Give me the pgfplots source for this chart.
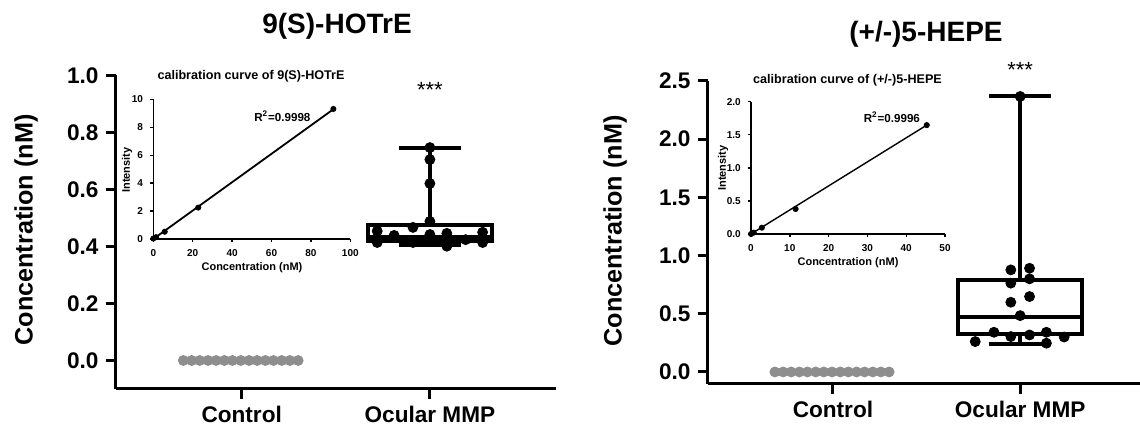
\documentclass[border=0pt]{standalone}
\usepackage{fontspec}
\setmainfont{Liberation Sans}
\usepackage{pgfplots}
\pgfplotsset{compat=1.18}
\usepgfplotslibrary{statistics}
\definecolor{ctrlgray}{HTML}{8E8E8E}

\pgfplotsset{
  mainax/.style={scale only axis, axis lines=left, axis line style={-, line width=1.5pt},
    enlargelimits=false, clip=false, tick align=outside, major tick length=5pt,
    tick style={line width=1.5pt, black},
    xtick={0,1}, xticklabels={Control, Ocular MMP},
    tick label style={font=\bfseries\fontsize{11.3}{13}\selectfont},
    /pgf/number format/assume math mode=true,
    yticklabel style={/pgf/number format/fixed, /pgf/number format/fixed zerofill, /pgf/number format/precision=1},
    xmin=-0.67, ymin=-0.1},
  inset/.style={scale only axis, axis lines=left, axis line style={-, line width=0.7pt},
    enlargelimits=false, clip=false, tick align=outside, major tick length=1.6pt,
    tick style={line width=0.7pt, black},
    tick label style={font=\bfseries\fontsize{5}{5.5}\selectfont},
    /pgf/number format/assume math mode=true, xmin=0, ymin=0},
  ctrl/.style={only marks, mark=*, mark size=2.5pt, color=ctrlgray},
  pts/.style={only marks, mark=*, mark size=2.5pt, black},
  bx/.style={draw=black, line width=2pt, solid, mark=none, boxplot/draw direction=y},
  ipts/.style={only marks, mark=*, mark size=1.3pt, black},
}

\begin{document}
\begin{tikzpicture}
\useasboundingbox (0,0) rectangle (570pt,215.5pt);

% ---------- left panel: 9(S)-HOTrE ----------
\begin{axis}[mainax, at={(57.8pt,21pt)}, anchor=south west,
  width=220.2pt, height=156.75pt, xmax=1.67, ymax=1.0,
  ytick={0,0.2,0.4,0.6,0.8,1.0}]
  \addplot[ctrl] coordinates {(-0.31,0) (-0.266,0) (-0.223,0) (-0.179,0) (-0.136,0)
    (-0.092,0) (-0.049,0) (-0.005,0) (0.039,0) (0.082,0) (0.126,0) (0.169,0)
    (0.213,0) (0.256,0) (0.30,0)};
  \addplot[bx, boxplot prepared={draw position=1, lower whisker=0.404,
    lower quartile=0.418, median=0.433, upper quartile=0.477, upper whisker=0.747,
    box extend=0.66, whisker extend=0.33}] coordinates {};
  \addplot[pts] coordinates {(1,0.747) (1,0.705) (1,0.621) (1,0.488)
    (0.72,0.454) (0.72,0.414) (0.81,0.439) (0.91,0.467) (0.91,0.414) (1,0.442)
    (1.09,0.446) (1.09,0.401) (1.19,0.424) (1.28,0.450) (1.28,0.414)};
  \node[font=\fontsize{11}{12}\selectfont] at (axis cs:1,0.951) {***};
\end{axis}

\begin{axis}[inset, at={(76.65pt,96pt)}, anchor=south west,
  width=98.5pt, height=69.75pt, xmax=100, ymax=10,
  xtick={0,20,...,100}, ytick={0,2,...,10}]
  \addplot[black, line width=0.9pt] coordinates {(0,0) (91.4,9.3)};
  \addplot[ipts] coordinates {(0,0.03) (1.4,0.13) (5.8,0.52) (22.8,2.25) (91.4,9.32)};
  \node[font=\bfseries\fontsize{5.8}{6.5}\selectfont] at (axis cs:65.5,8.8) {R\textsuperscript{2}=0.9998};
\end{axis}

\node[font=\bfseries\fontsize{14}{16}\selectfont] at (168.5pt,202.5pt) {9(S)-HOTrE};
\node[font=\bfseries\fontsize{12.6}{14}\selectfont, rotate=90] at (13pt,100.5pt) {Concentration (nM)};
\node[font=\bfseries\fontsize{6.3}{7}\selectfont] at (125.5pt,177.2pt) {calibration curve of 9(S)-HOTrE};
\node[font=\bfseries\fontsize{5.5}{6}\selectfont] at (126pt,81.5pt) {Concentration (nM)};
\node[font=\bfseries\fontsize{5.5}{6}\selectfont, rotate=90] at (63.5pt,130.5pt) {Intensity};

% ---------- right panel: (+/-)5-HEPE ----------
\begin{axis}[mainax, at={(353.75pt,23.7pt)}, anchor=south west,
  width=216.25pt, height=151.3pt, xmax=1.64, ymax=2.5,
  ytick={0,0.5,1.0,1.5,2.0,2.5}]
  \addplot[ctrl] coordinates {(-0.31,0) (-0.266,0) (-0.223,0) (-0.179,0) (-0.136,0)
    (-0.092,0) (-0.049,0) (-0.005,0) (0.039,0) (0.082,0) (0.126,0) (0.169,0)
    (0.213,0) (0.256,0) (0.30,0)};
  \addplot[bx, boxplot prepared={draw position=1, lower whisker=0.238,
    lower quartile=0.324, median=0.476, upper quartile=0.791, upper whisker=2.367,
    box extend=0.66, whisker extend=0.33}] coordinates {};
  \addplot[pts] coordinates {(1,2.367) (0.95,0.877) (1.05,0.891) (0.95,0.763)
    (1.05,0.80) (0.95,0.599) (1.05,0.648) (1,0.484) (0.86,0.341) (0.76,0.261)
    (0.95,0.304) (1.05,0.318) (1.14,0.341) (1.14,0.247) (1.235,0.30)};
  \node[font=\fontsize{11}{12}\selectfont] at (axis cs:1,2.594) {***};
\end{axis}

\begin{axis}[inset, at={(375.5pt,98.5pt)}, anchor=south west,
  width=97pt, height=66.15pt, xmax=50, ymax=2.0,
  xtick={0,10,...,50}, ytick={0,0.5,1.0,1.5,2.0},
  yticklabel style={/pgf/number format/fixed, /pgf/number format/fixed zerofill, /pgf/number format/precision=1}]
  \addplot[black, line width=0.7pt] coordinates {(0,0) (45.3,1.646)};
  \addplot[ipts] coordinates {(0,0) (0.7,0.02) (2.8,0.095) (11.5,0.378) (45.3,1.646)};
  \node[font=\bfseries\fontsize{5.8}{6.5}\selectfont] at (axis cs:36.3,1.77) {R\textsuperscript{2}=0.9996};
\end{axis}

\node[font=\bfseries\fontsize{14}{16}\selectfont] at (463pt,198.5pt) {(+/-)5-HEPE};
\node[font=\bfseries\fontsize{12.6}{14}\selectfont, rotate=90] at (307.5pt,100pt) {Concentration (nM)};
\node[font=\bfseries\fontsize{6.3}{7}\selectfont] at (423.75pt,175.5pt) {calibration curve of (+/-)5-HEPE};
\node[font=\bfseries\fontsize{5.5}{6}\selectfont] at (424pt,84pt) {Concentration (nM)};
\node[font=\bfseries\fontsize{5.5}{6}\selectfont, rotate=90] at (361.5pt,131.5pt) {Intensity};
\end{tikzpicture}
\end{document}
